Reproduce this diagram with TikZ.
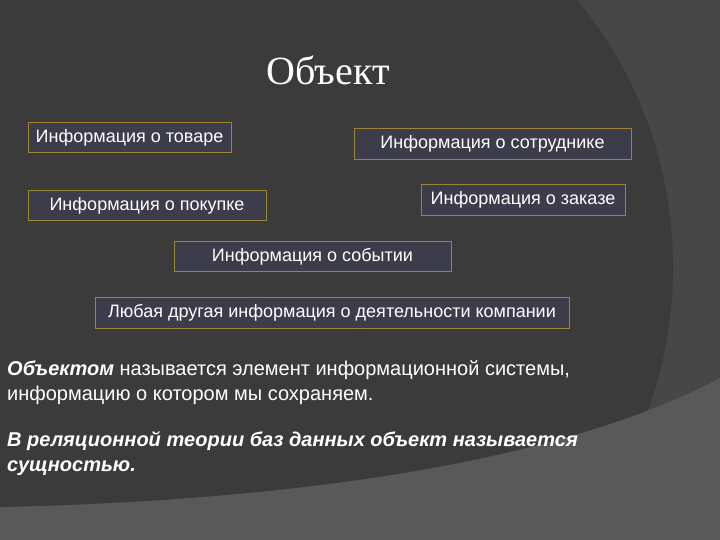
\documentclass[tikz,border=0pt]{standalone}
\usepackage{fontspec}
\setmainfont{Liberation Sans}
\newfontfamily\titlefont{Liberation Serif}
\usepackage{tikz}
\usepackage{xcolor}
\definecolor{slidelight}{HTML}{595959}
\definecolor{slidemid}{HTML}{474747}
\definecolor{slidedark}{HTML}{3B3B3B}
\definecolor{boxfill}{HTML}{3C3C4A}
\definecolor{boxline}{HTML}{9A8636}
\tikzstyle{infobox} = [
    draw=boxline,
    fill=boxfill,
    semithick,
    rectangle,
    text=white,
    inner sep=0pt,
    minimum height=30.5,
    font=\fontsize{18}{20}\selectfont
    ]
\tikzstyle{bodytext} = [
    text=white,
    inner sep=0pt,
    align=left,
    anchor=north west,
    font=\fontsize{20}{25}\selectfont
    ]

\begin{document}
\begin{tikzpicture}[x=1pt,y=-1pt]
\useasboundingbox (0,0) rectangle (720,540);
% background of the slide
\fill[slidelight] (0,0) rectangle (720,540);
\begin{scope}
\clip (0,0) -- (0,507) .. controls (300,500) and (560,462) .. (720,378) -- (720,0) -- cycle;
\fill[slidemid] (0,0) rectangle (720,540);
\fill[slidedark] (273,267) ellipse [x radius=400, y radius=411];
\end{scope}

\node[text=white, font=\titlefont\fontsize{40}{44}\selectfont] (title) at (328,70) {Объект};

\node[infobox, minimum width=203] (tovar) at (129.5,137.5) {Информация о товаре};
\node[infobox, minimum width=277] (sotrudnik) at (492.5,144) {Информация о сотруднике};
\node[infobox, minimum width=238] (pokupka) at (147,205.5) {Информация о покупке};
\node[infobox, minimum width=204] (zakaz) at (523,200) {Информация о заказе};
\node[infobox, minimum width=277] (sobytie) at (312.5,256.5) {Информация о событии};
\node[infobox, minimum width=474] (drugaya) at (332,313) {Любая другая информация о деятельности компании};

\node[bodytext] (opredelenie) at (7,360) {%
    \textbf{\textit{Объектом}} называется элемент информационной системы,\\
    информацию о котором мы сохраняем.};
\node[bodytext, font=\fontsize{20}{25}\selectfont\bfseries\itshape] (sushchnost) at (7,431) {%
    В реляционной теории баз данных объект называется\\
    сущностью.};
\end{tikzpicture}
\end{document}
